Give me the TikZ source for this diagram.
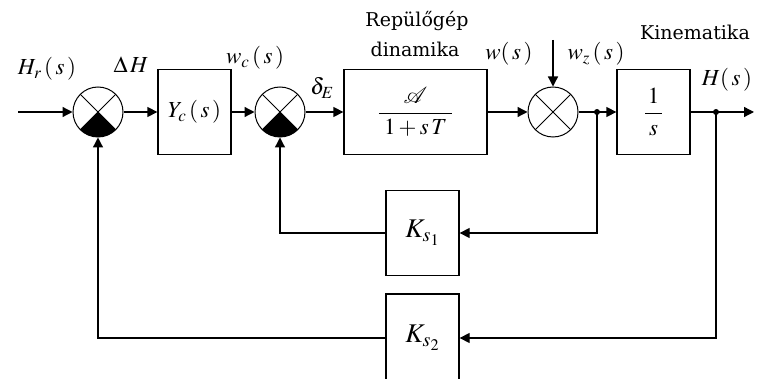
\documentclass[tikz,border=0pt]{standalone}
\usepackage{mathptmx}
\usepackage{fontspec}
\newfontfamily\txtfont{DejaVu Serif}
\usetikzlibrary{arrows.meta}
\begin{document}
\begin{tikzpicture}[x=1pt,y=1pt,
  line width=1.3pt,
  >={Triangle[length=10pt,width=10pt]},
  blk/.style={draw, minimum width=73pt, minimum height=85pt, inner sep=0pt, font=\fontsize{23}{27}\selectfont},
  sumj/.style={draw, circle, minimum size=50pt, inner sep=0pt, line width=1pt},
  lbl/.style={anchor=base, inner sep=0pt, font=\fontsize{23}{27}\selectfont},
  txt/.style={anchor=base, inner sep=0pt, font=\txtfont\fontsize{19}{23}\selectfont},
  dot/.style={circle, fill, minimum size=6pt, inner sep=0pt},
  crs/.style={line width=1pt},
]
\useasboundingbox (0,0) rectangle (758,378);

% summing junctions
\node[sumj] (s1) at (98,266) {};
\node[sumj] (s2) at (280,266) {};
\node[sumj] (s3) at (553,266) {};
\foreach \s in {s1,s2,s3}{
  \draw[crs] ([shift={(135:25)}]\s.center) -- ([shift={(-45:25)}]\s.center);
  \draw[crs] ([shift={(45:25)}]\s.center) -- ([shift={(-135:25)}]\s.center);
}
\foreach \s in {s1,s2}{
  \fill (\s.center) -- ([shift={(225:25)}]\s.center) arc[start angle=225,end angle=315,radius=25] -- cycle;
}

% blocks
\node[blk] (yc) at (194.5,266) {$Y_{c}\,(\,s\,)$};
\node[blk, minimum width=143pt] (ga) at (415.5,266) {$\displaystyle\frac{\mathcal{A}}{\;1+s\,T\;}$};
\node[blk] (kin) at (653.5,266) {$\displaystyle\frac{\,1\,}{s}$};
\node[blk, font=\fontsize{27}{30}\selectfont] (ks1) at (422.5,145) {$K_{s_1}$};
\node[blk, minimum height=88pt, font=\fontsize{27}{30}\selectfont] (ks2) at (422.5,40) {$K_{s_2}$};

% coordinates and branch points
\coordinate (in) at (18,266);
\coordinate (out) at (754,266);
\coordinate (dist) at (553,338);
\node[dot] (b1) at (597,266) {};
\node[dot] (b2) at (716,266) {};

% forward path
\draw[->] (in) -- (s1.west);
\draw[->] (s1.east) -- (yc.west);
\draw[->] (yc.east) -- (s2.west);
\draw[->] (s2.east) -- (ga.west);
\draw[->] (ga.east) -- (s3.west);
\draw[->] (s3.east) -- (kin.west);
\draw[->] (kin.east) -- (out);
\draw[->] (dist) -- (s3.north);

% feedback paths
\draw[->] (b1.center) |- (ks1.east);
\draw[->] (ks1.west) -| (s2.south);
\draw[->] (b2.center) |- (ks2.east);
\draw[->] (ks2.west) -| (s1.south);

% labels
\node[lbl] (lhr) at (47,303) {$H_{r}\,(\,s\,)$};
\node[lbl] (ldh) at (131,305) {$\Delta\, H$};
\node[lbl] (lwc) at (255,314) {$w_{c}\,(\,s\,)$};
\node[lbl] (lde) at (322,283) {$\delta_{E}$};
\node[txt] (t1) at (417,351) {Repülőgép};
\node[txt] (t2) at (415,321) {dinamika};
\node[lbl] (lw) at (509,318) {$w(\,s\,)$};
\node[lbl] (lwz) at (596,318) {$w_{z}\,(\,s\,)$};
\node[txt] (t3) at (695,338) {Kinematika};
\node[lbl] (lh) at (727,292) {$H(\,s\,)$};
\end{tikzpicture}
\end{document}
